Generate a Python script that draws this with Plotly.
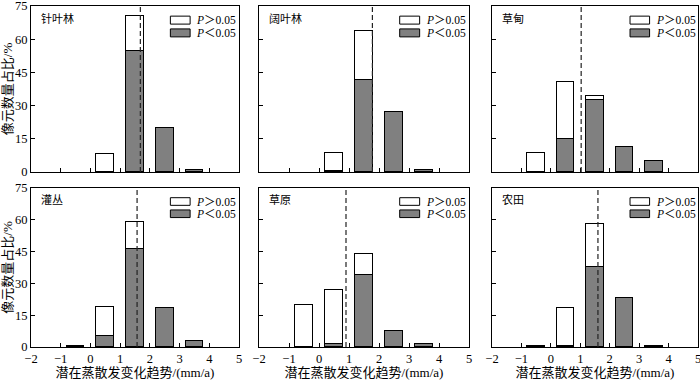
import plotly.graph_objects as go
from plotly.subplots import make_subplots

bins = [-0.5, 0.5, 1.5, 2.5, 3.5]
panels = ["针叶林", "阔叶林", "草甸", "灌丛", "草原", "农田"]
# P<0.05 share (%) per bin
sig = [
    [0, 0, 54.7, 20.1, 1.0],
    [0, 0.3, 41.4, 27.1, 0.8],
    [0, 14.8, 32.6, 11.5, 5.0],
    [0.7, 5.3, 46.4, 18.6, 2.8],
    [0, 1.4, 34.0, 7.7, 1.3],
    [0.3, 0.3, 37.9, 23.1, 0.6],
]
# P>0.05 share (%) per bin
nonsig = [
    [0, 8.1, 15.7, 0, 0],
    [0, 8.3, 22.2, 0, 0],
    [8.5, 25.7, 1.6, 0, 0],
    [0, 13.4, 12.4, 0, 0],
    [20.0, 25.5, 9.8, 0, 0],
    [0, 17.9, 20.1, 0, 0],
]
mean_trend = [1.68, 1.78, 1.03, 1.57, 0.9, 1.6]
x_ticks = [-2, -1, 0, 1, 2, 3, 4, 5]
y_ticks = [0, 15, 30, 45, 60, 75]
x_title = "潜在蒸散发变化趋势/(mm/a)"
y_title = "像元数量占比/%"
leg_labels = ["<i>P</i>＞0.05", "<i>P</i>＜0.05"]

W, H = 700, 380
col_px = [(31, 239), (259, 469), (492, 698)]
row_px = [(6, 172), (188, 347)]

fig = make_subplots(rows=2, cols=3)
SERIF = "Liberation Serif, Noto Sans CJK SC"
GRAY = "#808080"


def nz(vals):
    return [v if v else None for v in vals]


for i in range(6):
    r, c = i // 3 + 1, i % 3 + 1
    fig.add_trace(go.Bar(x=bins, y=nz(sig[i]), width=0.6, marker=dict(color=GRAY, line=dict(color="black", width=1)),
                         showlegend=False, name=leg_labels[1]), row=r, col=c)
    fig.add_trace(go.Bar(x=bins, y=nz(nonsig[i]), width=0.6, marker=dict(color="white", line=dict(color="black", width=1)),
                         showlegend=False, name=leg_labels[0]), row=r, col=c)
    xa = "x" if i == 0 else f"x{i+1}"
    ya = "y" if i == 0 else f"y{i+1}"
    fig.add_shape(type="line", xref=xa, yref=f"{ya} domain", x0=mean_trend[i], x1=mean_trend[i], y0=0, y1=1,
                  line=dict(color="#222", width=1.2, dash="5px,3px"))
    # panel label
    fig.add_annotation(xref=f"{xa} domain", yref=f"{ya} domain", x=0.04, y=0.93, text=panels[i],
                       showarrow=False, xanchor="left", yanchor="middle",
                       font=dict(family="Noto Sans CJK SC", size=11, color="black"))
    # legend
    for k, (fill, yy) in enumerate([("white", 0.915), (GRAY, 0.838)]):
        fig.add_shape(type="rect", xref=f"{xa} domain", yref=f"{ya} domain",
                      x0=0.67, x1=0.765, y0=yy - 0.024, y1=yy + 0.024,
                      fillcolor=fill, line=dict(color="black", width=1))
        fig.add_annotation(xref=f"{xa} domain", yref=f"{ya} domain", x=0.785, y=yy, text=leg_labels[k],
                           showarrow=False, xanchor="left", yanchor="middle",
                           font=dict(family=SERIF, size=11.5, color="black"))

    x0p, x1p = col_px[c - 1]
    y0p, y1p = row_px[r - 1]
    fig.update_xaxes(domain=[x0p / W, x1p / W], range=[-2, 5], tickvals=x_ticks, automargin=False,
                     showticklabels=(r == 2), ticks="inside", ticklen=4, tickcolor="black",
                     ticklabeloverflow="allow",
                     showline=True, linecolor="black", linewidth=1, mirror=True, showgrid=False, zeroline=False,
                     tickfont=dict(family=SERIF, size=12.5, color="black"), row=r, col=c)
    fig.update_yaxes(domain=[1 - y1p / H, 1 - y0p / H], range=[0, 75], tickvals=y_ticks, automargin=False,
                     showticklabels=(c == 1), ticks="inside", ticklen=4, tickcolor="black",
                     ticklabeloverflow="allow",
                     showline=True, linecolor="black", linewidth=1, mirror=True, showgrid=False, zeroline=False,
                     tickfont=dict(family=SERIF, size=12.5, color="black"), row=r, col=c)
    if r == 2:
        fig.update_xaxes(title=dict(text=x_title, font=dict(family=SERIF, size=13, color="black"), standoff=2),
                         row=r, col=c)
    if c == 1:
        fig.update_yaxes(title=dict(text=y_title, font=dict(family=SERIF, size=13, color="black"), standoff=2),
                         row=r, col=c)

fig.update_layout(width=W, height=H, margin=dict(l=0, r=0, t=0, b=0), barmode="stack", bargap=0,
                  plot_bgcolor="white", paper_bgcolor="white", showlegend=False)
fig.write_html("out.html", config={"displayModeBar": False},
               post_script="document.body.style.margin='0';document.body.style.overflow='hidden';")
